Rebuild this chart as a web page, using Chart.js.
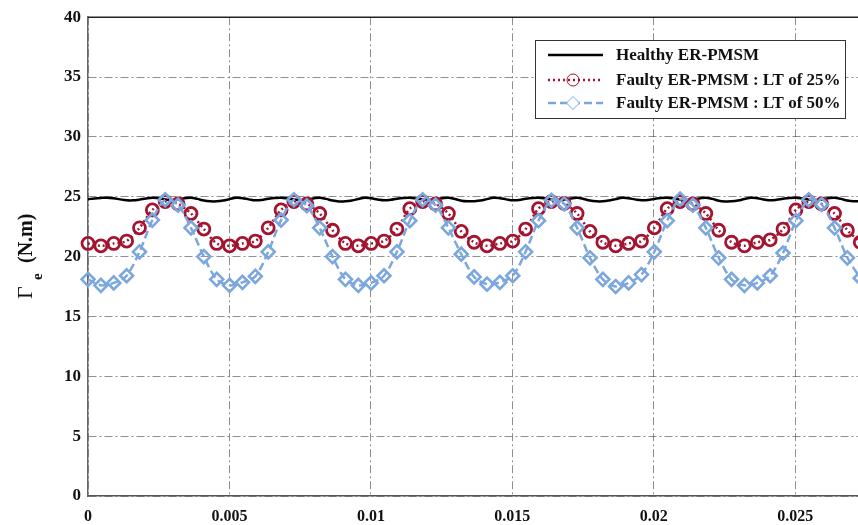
<!DOCTYPE html>
<html>
<head>
<meta charset="utf-8">
<script src="https://cdn.jsdelivr.net/npm/chart.js@4/dist/chart.umd.min.js"></script>
<style>
  html, body { margin: 0; padding: 0; background: #fff; }
  #wrap { width: 858px; height: 525px; }
</style>
</head>
<body>
<div id="wrap"><canvas id="c" width="858" height="525"></canvas></div>
<script>
// Electromagnetic torque of the ER-PMSM over time
const markerStep = 0.000455;   // s between plotted samples of the faulty cases
const healthyStep = 0.0002275; // s between samples of the healthy case

const seriesNames = [
  'Healthy ER-PMSM',
  'Faulty ER-PMSM : LT of 25%',
  'Faulty ER-PMSM : LT of 50%'
];

const healthyTorque = [
  24.80, 24.86, 24.90, 24.92, 24.87, 24.78, 24.71, 24.70, 24.76, 24.86,
  24.92, 24.87, 24.78, 24.72, 24.78, 24.87, 24.92, 24.82, 24.68, 24.62,
  24.62, 24.68, 24.80, 24.92, 24.88, 24.78, 24.70, 24.73, 24.83, 24.90,
  24.92, 24.86, 24.77, 24.71, 24.77, 24.86, 24.92, 24.82, 24.68, 24.61,
  24.62, 24.69, 24.81, 24.92, 24.87, 24.77, 24.70, 24.74, 24.84, 24.90,
  24.91, 24.85, 24.77, 24.72, 24.78, 24.87, 24.92, 24.81, 24.67, 24.62,
  24.63, 24.68, 24.80, 24.91, 24.88, 24.78, 24.70, 24.73, 24.83, 24.90,
  24.92, 24.86, 24.76, 24.71, 24.77, 24.86, 24.91, 24.82, 24.68, 24.62,
  24.62, 24.69, 24.80, 24.92, 24.87, 24.78, 24.71, 24.73, 24.82, 24.90,
  24.92, 24.86, 24.77, 24.72, 24.78, 24.86, 24.92, 24.82, 24.67, 24.61,
  24.62, 24.68, 24.81, 24.92, 24.88, 24.77, 24.70, 24.74, 24.83, 24.90,
  24.92, 24.85, 24.76, 24.71, 24.77, 24.87, 24.92, 24.82, 24.68, 24.62,
  24.63
];

const faulty25Torque = [
  21.1, 20.9, 21.1, 21.3, 22.4, 23.9, 24.6, 24.4, 23.6, 22.3,
  21.1, 20.9, 21.1, 21.3, 22.4, 23.9, 24.6, 24.4, 23.6, 22.2,
  21.1, 20.9, 21.1, 21.3, 22.3, 24.0, 24.6, 24.4, 23.6, 22.1,
  21.2, 20.9, 21.1, 21.3, 22.3, 24.0, 24.6, 24.45, 23.6, 22.1,
  21.2, 20.9, 21.1, 21.3, 22.4, 24.0, 24.6, 24.4, 23.6, 22.2,
  21.2, 20.9, 21.2, 21.4, 22.3, 23.9, 24.6, 24.4, 23.6, 22.2,
  21.2
];

const faulty50Torque = [
  18.1, 17.6, 17.8, 18.4, 20.4, 23.05, 24.75, 24.3, 22.4, 20.0,
  18.1, 17.6, 17.85, 18.35, 20.4, 23.05, 24.75, 24.25, 22.4, 20.0,
  18.1, 17.6, 17.8, 18.4, 20.4, 23.0, 24.75, 24.3, 22.4, 20.2,
  18.3, 17.7, 17.85, 18.4, 20.4, 23.0, 24.7, 24.4, 22.4, 19.9,
  18.1, 17.5, 17.8, 18.5, 20.4, 23.0, 24.8, 24.3, 22.4, 19.9,
  18.1, 17.6, 17.8, 18.4, 20.3, 23.0, 24.75, 24.35, 22.4, 19.9,
  18.2
];

const xTicks = [0, 0.005, 0.01, 0.015, 0.02, 0.025];
const xTickLabels = ['0', '0.005', '0.01', '0.015', '0.02', '0.025'];
const yTicks = [0, 5, 10, 15, 20, 25, 30, 35, 40];
const yTickLabels = ['0', '5', '10', '15', '20', '25', '30', '35', '40'];

const seriesColors = ['#000000', '#a2142f', '#7ba7de'];
const legendMarkerFill = ['rgba(255,255,255,0)', 'rgba(255,255,255,0)', '#ffffff'];

const toPoints = (vals, step) => vals.map((v, i) => ({ x: i * step, y: v }));

const serif = "'Liberation Serif', 'DejaVu Serif', serif";
const gridColor = 'rgba(70,70,70,0.6)';
const gridDash = [8, 3, 2, 3];

// Top frame line and the y-axis title with its subscript
const framePlugin = {
  id: 'frame',
  afterDraw(chart) {
    const { ctx, chartArea } = chart;
    ctx.save();
    ctx.strokeStyle = '#222';
    ctx.lineWidth = 1.5;
    ctx.beginPath();
    ctx.moveTo(chartArea.left, chartArea.top);
    ctx.lineTo(chartArea.right, chartArea.top);
    ctx.stroke();
    ctx.restore();

    ctx.save();
    ctx.translate(32, 299);
    ctx.rotate(-Math.PI / 2);
    ctx.fillStyle = '#111';
    ctx.textBaseline = 'alphabetic';
    ctx.font = '22px ' + serif;
    ctx.fillText('Γ', 0, 0);
    ctx.font = 'bold 15px ' + serif;
    ctx.fillText('e', 19, 10);
    ctx.font = 'bold 20px ' + serif;
    ctx.fillText('(N.m)', 36, 0);
    ctx.restore();
  }
};

// Boxed legend in the upper right of the plot
const legendPlugin = {
  id: 'boxLegend',
  afterDraw(chart) {
    const { ctx } = chart;
    const box = { x: 535, y: 40, w: 310, h: 78 };
    ctx.save();
    ctx.fillStyle = '#fff';
    ctx.fillRect(box.x, box.y, box.w, box.h);
    ctx.strokeStyle = '#333';
    ctx.lineWidth = 1;
    ctx.strokeRect(box.x + 0.5, box.y + 0.5, box.w, box.h);

    const rows = [55, 80, 103];
    const lineX0 = 548, lineX1 = 603, markX = 573, textX = 616;
    chart.data.datasets.forEach((ds, i) => {
      const y = rows[i];
      ctx.save();
      ctx.strokeStyle = ds.borderColor;
      ctx.lineWidth = ds.borderWidth;
      ctx.setLineDash(ds.borderDash || []);
      ctx.beginPath();
      ctx.moveTo(lineX0, y);
      ctx.lineTo(lineX1, y);
      ctx.stroke();
      ctx.restore();
      if (ds.pointRadius > 0) {
        ctx.save();
        ctx.fillStyle = legendMarkerFill[i];
        ctx.strokeStyle = ds.borderColor;
        Chart.helpers.drawPoint(ctx, {
          pointStyle: ds.pointStyle,
          radius: ds.pointRadius,
          borderWidth: ds.pointBorderWidth,
          rotation: 0
        }, markX, y);
        ctx.restore();
      }
      ctx.save();
      ctx.fillStyle = '#111';
      ctx.font = 'bold 17px ' + serif;
      ctx.textBaseline = 'middle';
      ctx.fillText(seriesNames[i], textX, y + 1);
      ctx.restore();
    });
    ctx.restore();
  }
};

new Chart(document.getElementById('c'), {
  type: 'line',
  data: {
    datasets: [
      {
        label: seriesNames[0],
        data: toPoints(healthyTorque, healthyStep),
        borderColor: seriesColors[0],
        borderWidth: 2.5,
        pointRadius: 0,
        tension: 0.4,
        order: 3
      },
      {
        label: seriesNames[1],
        data: toPoints(faulty25Torque, markerStep),
        borderColor: seriesColors[1],
        backgroundColor: 'rgba(255,255,255,0)',
        borderWidth: 2.5,
        borderDash: [2, 3],
        pointStyle: 'circle',
        pointRadius: 6,
        pointBorderWidth: 2.8,
        pointBackgroundColor: 'rgba(255,255,255,0)',
        pointBorderColor: seriesColors[1],
        tension: 0.3,
        clip: false,
        order: 2
      },
      {
        label: seriesNames[2],
        data: toPoints(faulty50Torque, markerStep),
        borderColor: seriesColors[2],
        backgroundColor: 'rgba(255,255,255,0)',
        borderWidth: 2.5,
        borderDash: [8, 4],
        pointStyle: 'rectRot',
        pointRadius: 6.5,
        pointBorderWidth: 2.6,
        pointBackgroundColor: 'rgba(255,255,255,0)',
        pointBorderColor: seriesColors[2],
        tension: 0.3,
        clip: false,
        order: 1
      }
    ]
  },
  options: {
    responsive: false,
    animation: false,
    devicePixelRatio: 1,
    layout: { autoPadding: false, padding: { top: 16, right: 0, left: 0, bottom: 0 } },
    plugins: {
      legend: { display: false },
      tooltip: { enabled: false }
    },
    scales: {
      x: {
        type: 'linear',
        min: 0,
        max: 0.02722,
        afterBuildTicks: s => { s.ticks = xTicks.map(v => ({ value: v })); },
        afterFit: s => { s.height = 29; s.paddingRight = 0; s.paddingLeft = 0; },
        ticks: {
          padding: 11,
          color: '#111',
          font: { family: serif, weight: 'bold', size: 16 },
          callback: (v, i) => xTickLabels[i]
        },
        grid: { color: gridColor, lineWidth: 1, drawTicks: false },
        border: { color: '#555', width: 1.5, dash: gridDash }
      },
      y: {
        min: 0,
        max: 40,
        afterBuildTicks: s => { s.ticks = yTicks.map(v => ({ value: v })); },
        afterFit: s => { s.width = 88; },
        ticks: {
          padding: 7,
          color: '#111',
          font: { family: serif, weight: 'bold', size: 17 },
          callback: (v, i) => yTickLabels[i]
        },
        grid: { color: gridColor, lineWidth: 1, drawTicks: false },
        border: { color: '#666', width: 1.5, dash: gridDash }
      }
    }
  },
  plugins: [framePlugin, legendPlugin]
});
</script>
</body>
</html>
